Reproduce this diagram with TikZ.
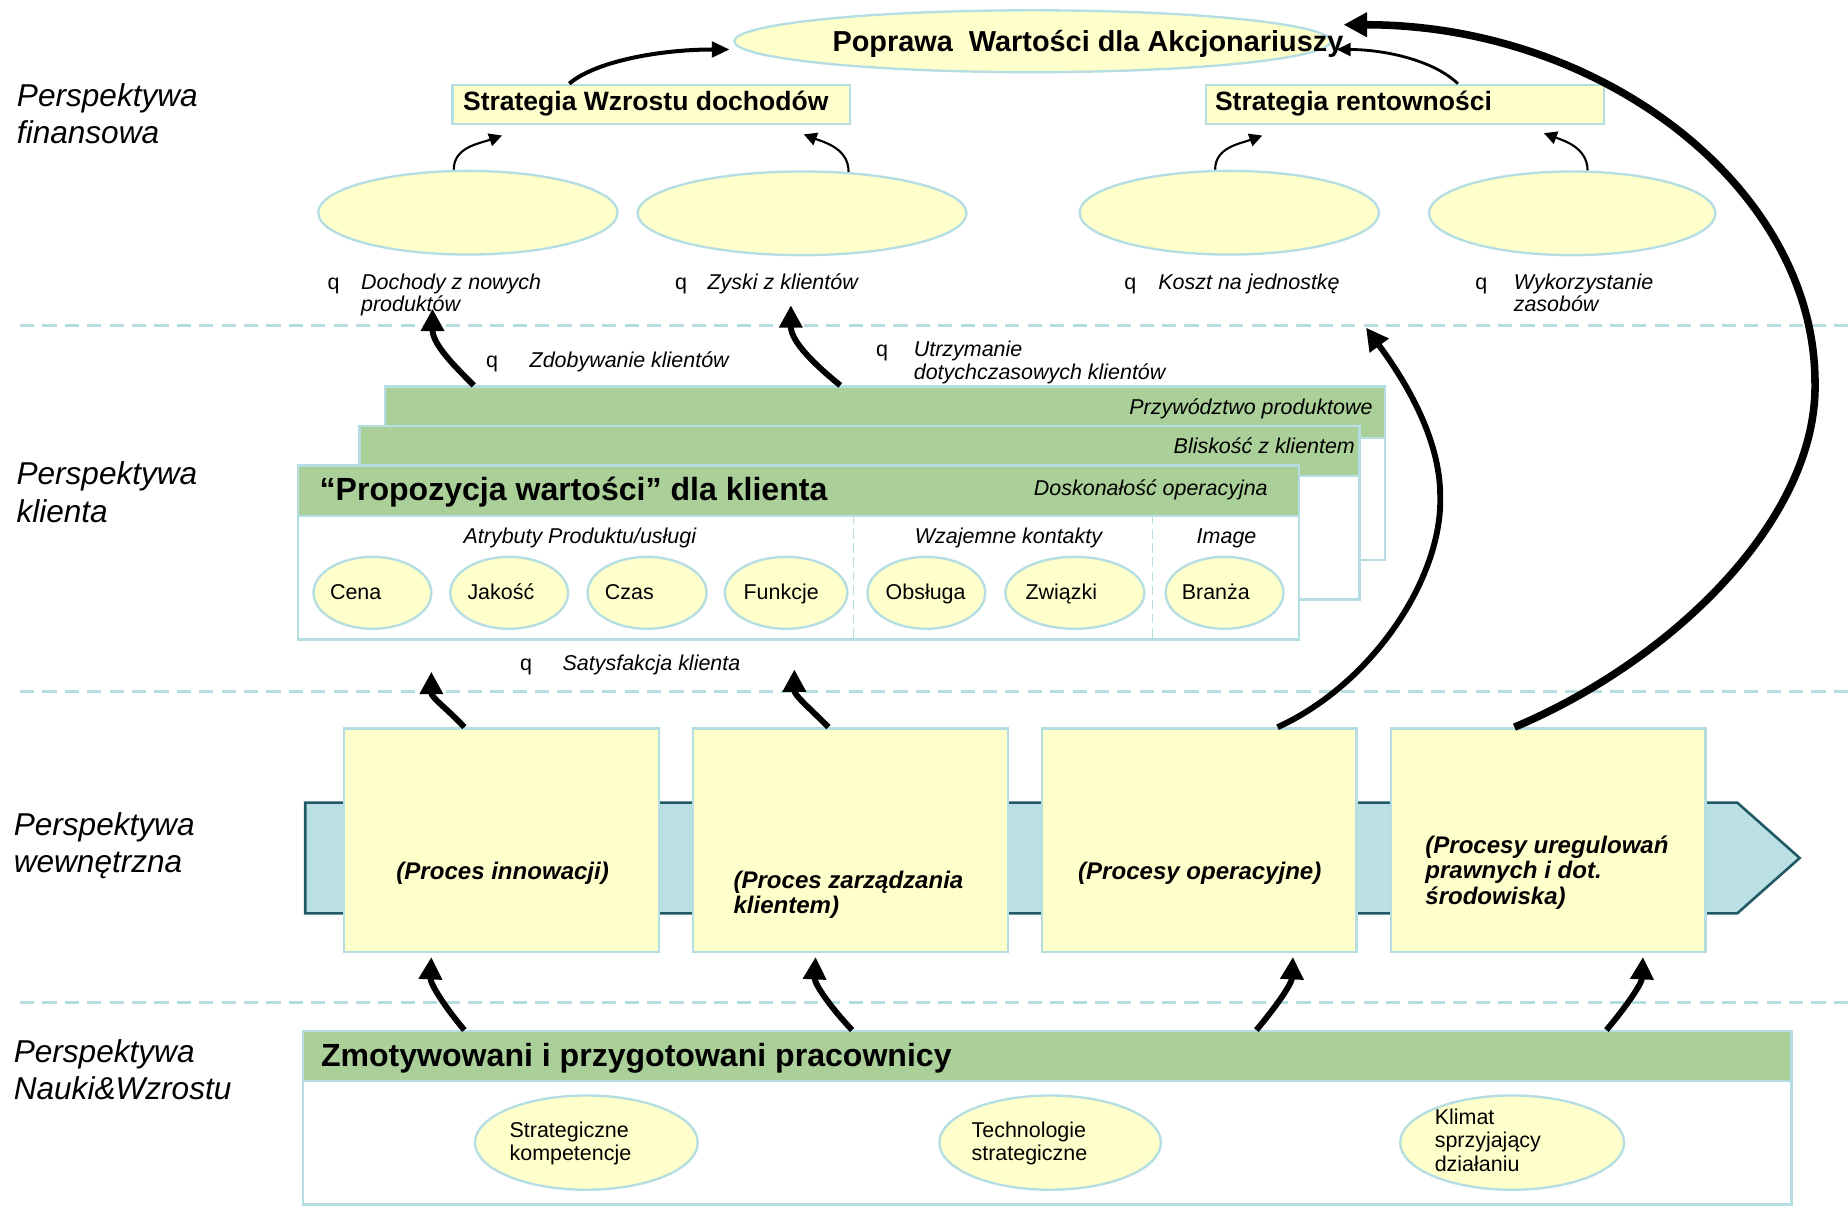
\documentclass[tikz,border=0pt]{standalone}
\usepackage{fontspec}
\setmainfont{Liberation Sans}
\usetikzlibrary{shapes.geometric,arrows.meta}

\definecolor{paleyellow}{HTML}{FFFFCC}
\definecolor{edgecyan}{HTML}{B5DEE3}
\definecolor{leafgreen}{HTML}{ABCF98}
\definecolor{bandfill}{HTML}{BBE0E3}
\definecolor{bandedge}{HTML}{215A66}
\definecolor{dashcyan}{HTML}{B7DEE3}

\tikzset{
  pale/.style={fill=paleyellow, draw=edgecyan, line width=1pt, inner sep=0pt},
  oval/.style={ellipse, pale},
  panel/.style={pale, anchor=north west},
  header/.style={fill=leafgreen, draw=edgecyan, line width=1pt, inner sep=0pt, anchor=north west},
  cardbody/.style={fill=white, draw=edgecyan, line width=1pt, inner sep=0pt, anchor=north west},
  % multi-line text nodes are placed by the baseline of their last line
  txt/.style={inner sep=0pt, anchor=base west},
  ctxt/.style={inner sep=0pt, anchor=base},
  rtxt/.style={inner sep=0pt, anchor=base east},
  small/.style={font=\fontsize{9.1}{9.5}\selectfont},
  smallit/.style={font=\fontsize{9.1}{9.5}\selectfont\itshape, align=left},
  persp/.style={txt, align=left, font=\fontsize{13.4}{16}\selectfont\itshape},
  stratfont/.style={font=\fontsize{11.25}{13}\selectfont\bfseries},
  titlefont/.style={font=\fontsize{13.6}{15}\selectfont\bfseries},
  procfont/.style={font=\fontsize{10.2}{10.9}\selectfont\bfseries\itshape, align=left},
  ovaltext/.style={txt, align=left, font=\fontsize{9.1}{10}\selectfont},
  levelsep/.style={draw=dashcyan, line width=1.25pt, dash pattern=on 6pt off 3.5pt},
  colsep/.style={draw=edgecyan, line width=0.6pt, dash pattern=on 4pt off 2pt},
  thinarrow/.style={line width=0.9pt, -{Triangle[length=5.5pt,width=5.5pt]}},
  slimarrow/.style={line width=1.2pt, -{Triangle[length=6pt,width=5.5pt]}},
  midarrow/.style={line width=1.7pt, -{Triangle[length=7.5pt,width=6.5pt]}},
  heavyarrow/.style={line width=2.5pt, -{Triangle[length=9.5pt,width=9.5pt]}},
  hugearrow/.style={line width=3.2pt, -{Triangle[length=10pt,width=10pt]}}
}

\begin{document}
\begin{tikzpicture}[x=0.5pt,y=-0.5pt]
\useasboundingbox (0,0) rectangle (1568,1026);

% level separators
\foreach \yy in {276,587,851}
  \draw[levelsep] (17,\yy) -- (1568,\yy);

% ---------- financial level ----------
\node[oval, minimum width=253pt, minimum height=26.25pt] (goal) at (876,35) {};
\node[panel, minimum width=168.5pt, minimum height=16.5pt] (stratL) at (383,71) {};
\node[panel, minimum width=169pt, minimum height=16.5pt] (stratR) at (1022,71) {};
\node[oval, minimum width=127pt, minimum height=35.5pt] (fin1) at (397,180.5) {};
\node[oval, minimum width=139.5pt, minimum height=35.5pt] (fin2) at (680.5,181) {};
\node[oval, minimum width=127pt, minimum height=35.5pt] (fin3) at (1043,180.5) {};
\node[oval, minimum width=121.5pt, minimum height=35.5pt] (fin4) at (1334,181) {};

% ---------- customer level: stacked value cards ----------
\node[cardbody, minimum width=424.25pt, minimum height=73.5pt] (cardC) at (325.5,327) {};
\node[header, minimum width=424.25pt, minimum height=21.75pt] (cardChead) at (325.5,327) {};
\node[cardbody, minimum width=424.25pt, minimum height=73.5pt] (cardB) at (304,360.6) {};
\node[header, minimum width=424.25pt, minimum height=21.2pt] (cardBhead) at (304,360.6) {};
\node[cardbody, minimum width=424.5pt, minimum height=73.8pt] (cardA) at (252,394) {};
\node[header, minimum width=424.5pt, minimum height=21.5pt] (cardAhead) at (252,394) {};
\draw[colsep] (724,437) -- (724,541.6);
\draw[colsep] (978,437) -- (978,541.6);

\node[oval, minimum width=50pt, minimum height=30.5pt] (cena) at (316,503) {};
\node[oval, minimum width=50pt, minimum height=30.5pt] (jakosc) at (432,503) {};
\node[oval, minimum width=50.5pt, minimum height=30.5pt] (czas) at (549,503) {};
\node[oval, minimum width=52pt, minimum height=30.5pt] (funkcje) at (667,503) {};
\node[oval, minimum width=50pt, minimum height=30.5pt] (obsluga) at (786,503) {};
\node[oval, minimum width=59pt, minimum height=30.5pt] (zwiazki) at (912,503) {};
\node[oval, minimum width=50pt, minimum height=30.5pt] (branza) at (1039,503) {};

% ---------- internal level: process chain ----------
\draw[fill=bandfill, draw=bandedge, line width=1.1pt, line join=miter]
  (259,681) -- (1474,681) -- (1527,728) -- (1474,775) -- (259,775) -- cycle;
\node[panel, minimum width=133.5pt, minimum height=95pt] (procA) at (291,617) {};
\node[panel, minimum width=133.5pt, minimum height=95pt] (procB) at (587,617) {};
\node[panel, minimum width=133.5pt, minimum height=95pt] (procC) at (883,617) {};
\node[panel, minimum width=133.5pt, minimum height=95pt] (procD) at (1179,617) {};

% ---------- learning level ----------
\node[cardbody, minimum width=631.5pt, minimum height=73.5pt] (learn) at (256,874) {};
\node[header, minimum width=631.5pt, minimum height=21pt] (learnhead) at (256,874) {};
\node[oval, minimum width=94.5pt, minimum height=40pt] (skills) at (497.5,969.5) {};
\node[oval, minimum width=94pt, minimum height=40pt] (tech) at (891,969.5) {};
\node[oval, minimum width=95pt, minimum height=40pt] (climate) at (1283,969.5) {};

% free arrow ends
\coordinate (tipNew) at (367,262);
\coordinate (tipKeep) at (671,259);
\coordinate (tipSatA) at (366,570);
\coordinate (tipSatB) at (674,568);
\coordinate (tipUnit) at (1159,278);

% ---------- connectors ----------
\draw[midarrow] ([xshift=-34.75pt]stratL.north) .. controls (505,52) and (560,42) .. ([xshift=-1.5pt,yshift=-3.5pt]goal.west);
\draw[slimarrow] ([xshift=22.5pt]stratR.north) .. controls (1215,50) and (1172,42) .. ([xshift=2pt,yshift=-3.5pt]goal.east);

\draw[thinarrow] ([xshift=-6pt]fin1.north) .. controls (385,125) and (406,122) .. ([xshift=-63.25pt,yshift=-4.5pt]stratL.south);
\draw[thinarrow] ([xshift=19.75pt,yshift=-0.7pt]fin2.north) .. controls (720,126) and (700,121) .. ([xshift=64.75pt,yshift=-4pt]stratL.south);
\draw[thinarrow] ([xshift=-6pt]fin3.north) .. controls (1031,125) and (1052,122) .. ([xshift=-60.5pt,yshift=-4.5pt]stratR.south);
\draw[thinarrow] ([xshift=6.5pt]fin4.north) .. controls (1347,125) and (1326,119) .. ([xshift=59pt,yshift=-3.5pt]stratR.south);

\draw[heavyarrow] ([xshift=-174.4pt]cardChead.north) .. controls (385,310) and (367,292) .. (tipNew);
\draw[heavyarrow] ([xshift=-18.9pt]cardChead.north) .. controls (692,310) and (671,290) .. (tipKeep);

\draw[heavyarrow] ([xshift=-15.75pt]procA.north) .. controls (378,600) and (366,592) .. (tipSatA);
\draw[heavyarrow] ([xshift=-9.25pt]procB.north) .. controls (686,600) and (674,590) .. (tipSatB);
\draw[heavyarrow] ([xshift=33.25pt]procC.north) .. controls (1165,580) and (1224,490) .. (1222,421)
  .. controls (1222,370) and (1190,320) .. (tipUnit);
\draw[hugearrow] ([xshift=-14.25pt]procD.north) .. controls (1420,560) and (1542,440) .. (1540,325)
  .. controls (1540,160) and (1360,21) .. ([xshift=5pt,yshift=7pt]goal.east);

\draw[heavyarrow] ([xshift=-247.25pt]learnhead.north) .. controls (378,855) and (365,835) .. ([xshift=-29.75pt,yshift=-1.5pt]procA.south);
\draw[heavyarrow] ([xshift=-82.75pt]learnhead.north) .. controls (705,855) and (691,835) .. ([xshift=-14.75pt,yshift=-1.5pt]procB.south);
\draw[heavyarrow] ([xshift=88.75pt]learnhead.north) .. controls (1082,855) and (1096,835) .. ([xshift=39.75pt,yshift=-1.5pt]procC.south);
\draw[heavyarrow] ([xshift=237.25pt]learnhead.north) .. controls (1379,855) and (1393,835) .. ([xshift=40.25pt,yshift=-1.5pt]procD.south);

% ---------- texts ----------
\node[persp] (pFin) at (14,122) {Perspektywa\\finansowa};
\node[persp] (pCli) at (13.6,443.5) {Perspektywa\\klienta};
\node[persp] (pInt) at (11.3,740.5) {Perspektywa\\wewnętrzna};
\node[persp] (pLrn) at (11.3,933.3) {Perspektywa\\Nauki\&Wzrostu};

\node[txt, font=\fontsize{12.25}{14}\selectfont\bfseries] (tGoal) at (706,44) {Poprawa\ \ Wartości dla Akcjonariuszy};
\node[txt, stratfont] (tStratL) at (392.5,93.4) {Strategia Wzrostu dochodów};
\node[txt, stratfont] (tStratR) at (1030.5,93.4) {Strategia rentowności};

\node[txt, small] (q1) at (277.5,245.5) {q};
\node[txt, smallit] (tNew) at (306,264.5) {Dochody z nowych\\produktów};
\node[txt, small] (q2) at (572.5,245.5) {q};
\node[txt, smallit] (tProfit) at (600,245.5) {Zyski z klientów};
\node[txt, small] (q3) at (953.7,245.5) {q};
\node[txt, smallit] (tCost) at (982.5,245.5) {Koszt na jednostkę};
\node[txt, small] (q4) at (1251.5,245.5) {q};
\node[txt, smallit] (tAssets) at (1284,264.5) {Wykorzystanie\\zasobów};

\node[txt, small] (q5) at (412,311.7) {q};
\node[txt, smallit] (tAcq) at (449,311.7) {Zdobywanie klientów};
\node[txt, small] (q6) at (743,302.6) {q};
\node[txt, smallit] (tRet) at (775,321.6) {Utrzymanie\\dotychczasowych klientów};

\node[rtxt, smallit] (tLead) at (1165,352) {Przywództwo produktowe};
\node[rtxt, smallit] (tIntim) at (1150,385.2) {Bliskość z klientem};
\node[rtxt, smallit] (tOper) at (1076,420.5) {Doskonałość operacyjna};
\node[txt, titlefont] (tValue) at (270.8,424.8) {“Propozycja wartości” dla klienta};

\node[ctxt, smallit] (tAttr) at (492,461) {Atrybuty Produktu/usługi};
\node[ctxt, smallit] (tRel) at (855.7,461) {Wzajemne kontakty};
\node[ctxt, smallit] (tImg) at (1040.7,461) {Image};

\node[ctxt, small] (tCena) at (301.8,508.5) {Cena};
\node[ctxt, small] (tJak) at (425,508.5) {Jakość};
\node[ctxt, small] (tCzas) at (534,508.5) {Czas};
\node[ctxt, small] (tFunk) at (662.8,508.5) {Funkcje};
\node[ctxt, small] (tObs) at (785.4,508.5) {Obsługa};
\node[ctxt, small] (tZw) at (900.5,508.5) {Związki};
\node[ctxt, small] (tBr) at (1031.6,508.5) {Branża};

\node[txt, small] (q7) at (441,568.5) {q};
\node[txt, smallit] (tSat) at (477,568.5) {Satysfakcja klienta};

\node[ctxt, procfont] (tInn) at (426.5,746) {(Proces innowacji)};
\node[txt, procfont] (tCrm) at (622,775.5) {(Proces zarządzania\\klientem)};
\node[ctxt, procfont] (tOps) at (1018,746) {(Procesy operacyjne)};
\node[txt, procfont] (tReg) at (1209,767.6) {(Procesy uregulowań\\prawnych i dot.\\środowiska)};

\node[txt, titlefont] (tStaff) at (272,905) {Zmotywowani i przygotowani pracownicy};
\node[ovaltext] (tSkills) at (432,985) {Strategiczne\\kompetencje};
\node[ovaltext] (tTech) at (824,985) {Technologie\\strategiczne};
\node[ovaltext] (tClim) at (1217,994) {Klimat\\sprzyjający\\działaniu};
\end{tikzpicture}
\end{document}
